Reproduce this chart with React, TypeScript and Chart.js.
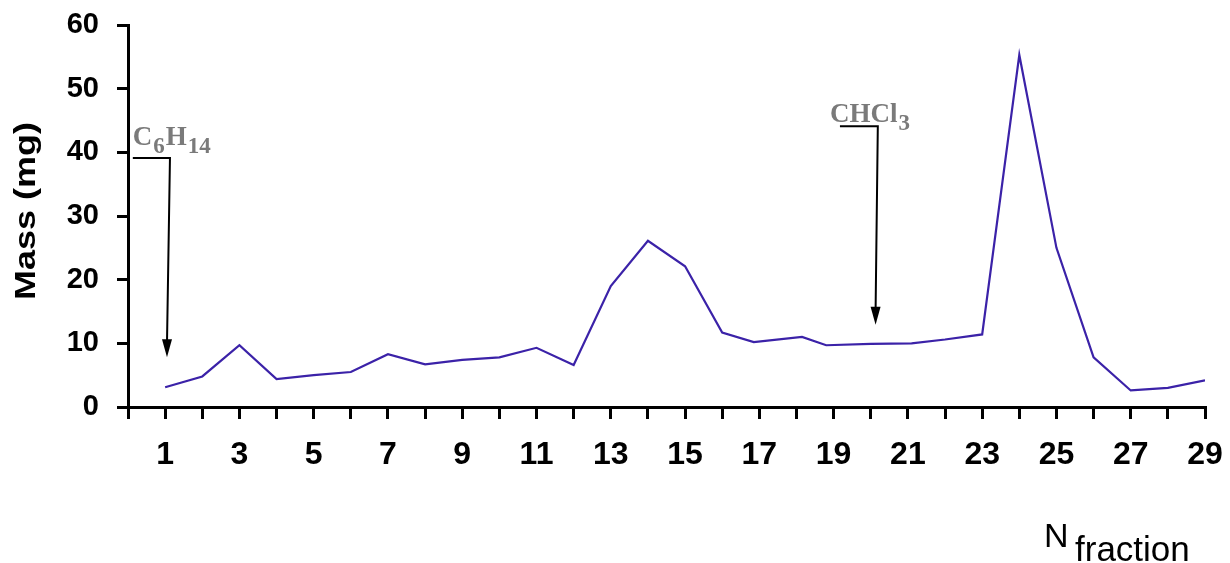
import React, { useEffect, useRef } from 'react';
import { Chart, registerables } from 'chart.js';

Chart.register(...registerables);

// ---- data ----
const fractionX = [1, 2, 3, 4, 5, 6, 7, 8, 9, 10, 11, 12, 13, 14, 15, 16, 16.85, 18.15, 18.8, 20, 21.1, 22, 23, 24, 25, 26, 27, 28, 29];
const massMg = [3.1, 4.8, 9.7, 4.4, 5.0, 5.5, 8.3, 6.7, 7.4, 7.8, 9.3, 6.6, 19.0, 26.1, 22.1, 11.7, 10.2, 11.0, 9.7, 9.9, 10.0, 10.6, 11.4, 55.3, 25.0, 7.8, 2.6, 3.0, 4.2];

const xMin = 0;
const xMax = 29;
const yMin = 0;
const yMax = 60;
const yStep = 10;

const yTitle = 'Mass (mg)';
const xTitleMain = 'N';
const xTitleSub = 'fraction';

// solvent annotations: [text parts], arrow (data coords)
const hexaneParts = [['C', false], ['6', true], ['H', false], ['14', true]] as [string, boolean][];
const chloroformParts = [['CHCl', false], ['3', true]] as [string, boolean][];
const hexaneText = { x: 0.13, y: 41.1 };
const hexaneArrow = { x0: 0.13, x1: 1.13, y0: 39.1, xTip: 1.05, yTip: 7.8 };
const chloroformText = { x: 18.9, y: 44.75 };
const chloroformArrow = { x0: 19.17, x1: 20.19, y0: 44.1, xTip: 20.13, yTip: 12.9 };

const LINE_COLOR = '#3b22a8';
const SANS = '"Liberation Sans", Arial, sans-serif';
const SERIF = '"Liberation Serif", "Times New Roman", serif';

function drawFormula(ctx: CanvasRenderingContext2D, parts: [string, boolean][], x: number, y: number) {
  ctx.save();
  ctx.fillStyle = '#7a7a7a';
  ctx.textAlign = 'left';
  ctx.textBaseline = 'alphabetic';
  let cx = x;
  for (const [t, sub] of parts) {
    ctx.font = sub ? `bold 23px ${SERIF}` : `bold 27px ${SERIF}`;
    ctx.fillText(t, cx, sub ? y + 8 : y);
    cx += ctx.measureText(t).width + 1;
  }
  ctx.restore();
}

function drawArrow(chart: any, a: { x0: number; x1: number; y0: number; xTip: number; yTip: number }) {
  const ctx: CanvasRenderingContext2D = chart.ctx;
  const xs = chart.scales.x;
  const ys = chart.scales.y;
  const px0 = xs.getPixelForValue(a.x0);
  const px1 = xs.getPixelForValue(a.x1);
  const py0 = ys.getPixelForValue(a.y0);
  const ptx = xs.getPixelForValue(a.xTip);
  const pty = ys.getPixelForValue(a.yTip);
  ctx.save();
  ctx.strokeStyle = '#000';
  ctx.fillStyle = '#000';
  ctx.lineWidth = 2;
  ctx.beginPath();
  ctx.moveTo(px0, py0);
  ctx.lineTo(px1, py0);
  ctx.lineTo(ptx, pty - 14);
  ctx.stroke();
  ctx.beginPath();
  ctx.moveTo(ptx, pty);
  ctx.lineTo(ptx - 5, pty - 18);
  ctx.lineTo(ptx + 5, pty - 18);
  ctx.closePath();
  ctx.fill();
  ctx.restore();
}

const decorPlugin = {
  id: 'decor',
  afterDraw(chart: any) {
    const ctx: CanvasRenderingContext2D = chart.ctx;
    const xs = chart.scales.x;
    const ys = chart.scales.y;
    const area = chart.chartArea;

    drawArrow(chart, hexaneArrow);
    drawArrow(chart, chloroformArrow);
    drawFormula(ctx, hexaneParts, xs.getPixelForValue(hexaneText.x), ys.getPixelForValue(hexaneText.y));
    drawFormula(ctx, chloroformParts, xs.getPixelForValue(chloroformText.x), ys.getPixelForValue(chloroformText.y));

    // y title
    ctx.save();
    ctx.fillStyle = '#000';
    ctx.translate(area.left - 93, (area.top + area.bottom) / 2 - 5);
    ctx.rotate(-Math.PI / 2);
    ctx.scale(1.2, 1);
    ctx.font = `bold 30px ${SANS}`;
    ctx.textAlign = 'center';
    ctx.textBaseline = 'alphabetic';
    ctx.fillText(yTitle, 0, 0);
    ctx.restore();

    // x title
    ctx.save();
    ctx.fillStyle = '#000';
    ctx.textAlign = 'left';
    ctx.textBaseline = 'alphabetic';
    ctx.font = `34px ${SANS}`;
    ctx.fillText(xTitleMain, area.right - 161, area.bottom + 140);
    ctx.font = `35px ${SANS}`;
    ctx.fillText(xTitleSub, area.right - 130, area.bottom + 154);
    ctx.restore();
  },
};

export default function App() {
  const ref = useRef<HTMLCanvasElement | null>(null);

  useEffect(() => {
    document.body.style.margin = '0';
    const canvas = ref.current;
    if (!canvas) return;
    const chart = new Chart(canvas, {
      type: 'line',
      data: {
        datasets: [
          {
            data: fractionX.map((x, i) => ({ x, y: massMg[i] })),
            borderColor: LINE_COLOR,
            backgroundColor: LINE_COLOR,
            borderWidth: 2.2,
            pointRadius: 0,
            tension: 0,
            fill: false,
          },
        ],
      },
      options: {
        animation: false,
        responsive: false,
        devicePixelRatio: 1,
        layout: { padding: { left: 0, top: 25, right: 25, bottom: 0 } },
        plugins: {
          legend: { display: false },
          tooltip: { enabled: false },
          title: { display: false },
        },
        scales: {
          x: {
            type: 'linear',
            min: xMin,
            max: xMax,
            afterFit: (s: any) => {
              s.height = 156;
              s.paddingLeft = 0;
              s.paddingRight = 0;
            },
            ticks: {
              stepSize: 1,
              autoSkip: false,
              maxRotation: 0,
              padding: 17,
              color: '#000',
              font: { family: SANS, size: 32, weight: 'bold' },
              callback: (v: any) => (Number(v) % 2 === 1 ? String(v) : ''),
            },
            grid: { drawOnChartArea: false, drawTicks: true, tickLength: 12, color: '#000', lineWidth: 3 },
            border: { display: true, color: '#000', width: 3 },
          },
          y: {
            type: 'linear',
            min: yMin,
            max: yMax,
            afterFit: (s: any) => {
              s.width = 128;
              s.paddingTop = 0;
              s.paddingBottom = 0;
            },
            ticks: {
              stepSize: yStep,
              padding: 18,
              color: '#000',
              font: { family: SANS, size: 29, weight: 'bold' },
            },
            grid: { drawOnChartArea: false, drawTicks: true, tickLength: 11, color: '#000', lineWidth: 3 },
            border: { display: true, color: '#000', width: 3 },
          },
        },
      },
      plugins: [decorPlugin],
    });
    return () => chart.destroy();
  }, []);

  return (
    <div style={{ width: 1230, height: 563 }}>
      <canvas ref={ref} width={1230} height={563} style={{ display: 'block' }} />
    </div>
  );
}
